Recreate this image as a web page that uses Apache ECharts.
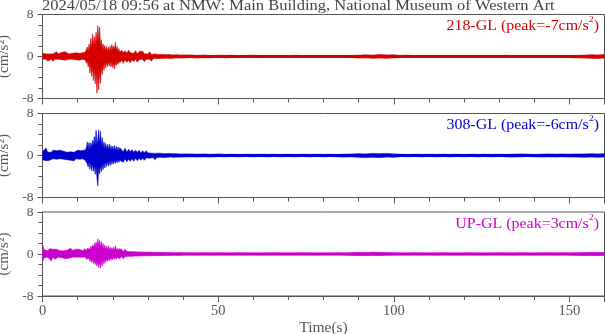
<!DOCTYPE html>
<html><head><meta charset="utf-8">
<script src="https://cdn.jsdelivr.net/npm/echarts@6/dist/echarts.min.js"></script>
<style>html,body{margin:0;padding:0;background:#fff}#c{width:605px;height:334px}</style>
</head><body><div id="c"></div>
<script>
// Sampling grid of the envelope readings: [start, end, step] in seconds
const timeSegments = [[0, 12, 0.5], [12.25, 22, 0.25], [22.5, 40, 0.5], [42, 160, 2]];
const xTicks = [0, 50, 100, 150];
const yTicks = [-8, 0, 8];
const titleText = '2024/05/18 09:56 at NMW: Main Building, National Museum of Western Art';
const names = ['218-GL', '308-GL', 'UP-GL'];
const peaks = ['-7', '-6', '3'];

// upper / lower envelope of each trace (cm/s^2)
const hi218 = [0.6,0.9,0.5,0.7,0.5,0.8,0.5,0.7,0.9,0.5,0.6,0.8,0.5,0.9,0.6,0.5,0.8,0.6,0.5,0.7,0.9,0.6,0.5,0.7,0.8,
 0.9,0.6,1.8,1.0,2.4,1.3,3.4,1.6,4.3,2.0,3.8,2.2,4.6,2.6,5.9,2.8,5.6,2.0,3.2,1.5,2.4,1.2,2.1,1.0,1.9,1.1,1.8,0.9,2.0,1.0,2.3,1.2,2.0,1.3,2.7,1.1,1.9,0.9,1.5,0.8,
 1.2,0.7,1.1,0.6,1.2,0.7,1.0,0.6,1.1,0.5,0.9,0.6,1.0,0.5,0.8,0.5,0.9,0.4,0.7,0.5,0.8,0.4,0.6,0.4,0.7,0.35,0.6,0.4,0.5,0.3,0.55,0.35,0.45,0.3,0.45,0.3,
 0.3,0.2,0.3,0.15,0.25,0.2,0.25,0.15,0.2,0.25,
 0.15,0.2,0.15,0.2,0.15,0.25,0.15,0.2,0.15,0.2,
 0.15,0.2,0.15,0.2,0.25,0.35,0.25,0.4,0.3,0.35,
 0.2,0.25,0.15,0.2,0.15,0.2,0.15,0.2,0.15,0.2,
 0.15,0.2,0.15,0.2,0.15,0.25,0.15,0.2,0.15,0.2,
 0.15,0.2,0.15,0.2,0.15,0.2,0.25,0.35,0.3,0.4];
const lo218 = [-0.5,-0.8,-0.5,-0.9,-0.6,-0.5,-0.9,-0.5,-0.7,-0.5,-0.8,-0.6,-0.5,-0.7,-0.9,-0.5,-0.7,-0.5,-0.8,-0.6,-0.5,-0.7,-0.9,-0.5,-0.7,
 -0.7,-1.3,-0.8,-2.0,-1.0,-3.2,-1.5,-3.8,-1.9,-4.6,-2.4,-5.2,-2.8,-7.0,-3.0,-6.4,-2.6,-5.1,-2.0,-3.4,-1.5,-2.6,-1.2,-2.2,-1.0,-1.9,-1.1,-1.8,-0.9,-2.0,-1.0,-2.1,-1.2,-2.4,-1.1,-1.7,-0.9,-1.5,-0.8,-1.2,
 -0.7,-1.3,-0.6,-1.1,-0.7,-1.2,-0.6,-1.0,-0.5,-1.1,-0.6,-0.9,-0.5,-1.0,-0.5,-0.8,-0.5,-0.9,-0.4,-0.7,-0.4,-0.7,-0.4,-0.6,-0.35,-0.7,-0.35,-0.5,-0.4,-0.55,-0.3,-0.5,-0.3,-0.45,-0.3,-0.4,
 -0.2,-0.3,-0.2,-0.25,-0.15,-0.25,-0.2,-0.2,-0.15,-0.2,
 -0.2,-0.15,-0.2,-0.15,-0.2,-0.15,-0.2,-0.15,-0.2,-0.15,
 -0.2,-0.15,-0.2,-0.2,-0.3,-0.25,-0.35,-0.3,-0.35,-0.25,
 -0.2,-0.15,-0.2,-0.15,-0.2,-0.15,-0.2,-0.15,-0.2,-0.15,
 -0.2,-0.15,-0.2,-0.15,-0.2,-0.15,-0.2,-0.15,-0.2,-0.15,
 -0.2,-0.15,-0.2,-0.15,-0.2,-0.25,-0.3,-0.35,-0.4,-0.3];

const hi308 = [0.7,1.0,1.4,0.6,0.9,0.6,1.0,0.7,0.9,0.6,1.0,0.7,0.8,1.0,0.6,0.9,0.7,1.0,0.6,0.8,1.0,0.7,0.9,0.6,1.0,
 0.8,1.4,2.6,1.2,2.5,1.3,2.4,1.5,2.9,1.8,3.6,1.9,4.8,2.2,3.0,4.9,2.0,4.6,1.8,3.4,1.5,2.6,1.3,2.3,1.2,2.1,1.1,2.2,1.0,1.9,1.0,1.8,0.9,1.9,0.9,1.7,0.8,1.6,0.9,1.5,
 1.3,0.7,1.4,0.6,1.2,0.7,1.1,0.6,1.0,0.6,1.0,0.5,0.9,0.5,0.9,0.5,0.8,0.45,0.8,0.4,0.7,0.45,0.7,0.4,0.65,0.35,0.6,0.4,0.55,0.35,0.5,0.35,0.45,0.3,0.45,0.3,
 0.3,0.25,0.3,0.2,0.3,0.2,0.25,0.2,0.25,0.2,
 0.25,0.2,0.25,0.2,0.25,0.2,0.25,0.2,0.25,0.2,
 0.25,0.2,0.25,0.3,0.35,0.3,0.4,0.35,0.4,0.3,
 0.25,0.2,0.25,0.2,0.25,0.2,0.25,0.2,0.25,0.2,
 0.25,0.2,0.25,0.2,0.25,0.2,0.25,0.3,0.25,0.2,
 0.25,0.3,0.25,0.3,0.25,0.3,0.3,0.35,0.3,0.35];
const lo308 = [-0.8,-0.6,-1.0,-0.7,-0.9,-1.0,-0.6,-0.9,-0.7,-1.0,-0.6,-0.9,-0.7,-1.0,-0.8,-0.6,-0.9,-0.7,-1.0,-0.6,-0.9,-0.7,-1.0,-0.6,-0.9,
 -1.0,-0.8,-1.6,-2.2,-1.2,-2.6,-1.4,-2.9,-1.6,-3.0,-1.8,-3.6,-2.0,-4.2,-5.8,-2.2,-3.5,-1.9,-3.1,-1.6,-2.7,-1.4,-2.4,-1.2,-2.1,-1.1,-2.0,-1.0,-1.9,-0.9,-1.7,-1.0,-1.6,-0.9,-1.5,-0.8,-1.4,-0.8,-1.3,-0.9,
 -0.7,-1.3,-0.6,-1.2,-0.7,-1.1,-0.6,-1.1,-0.5,-1.0,-0.5,-0.9,-0.5,-0.9,-0.45,-0.8,-0.5,-0.7,-0.4,-0.8,-0.4,-0.7,-0.35,-0.6,-0.4,-0.6,-0.35,-0.6,-0.3,-0.5,-0.35,-0.5,-0.3,-0.45,-0.3,-0.4,
 -0.25,-0.3,-0.25,-0.3,-0.2,-0.25,-0.2,-0.25,-0.2,-0.25,
 -0.2,-0.25,-0.2,-0.25,-0.2,-0.25,-0.2,-0.25,-0.2,-0.25,
 -0.2,-0.25,-0.3,-0.25,-0.35,-0.4,-0.35,-0.4,-0.3,-0.35,
 -0.2,-0.25,-0.2,-0.25,-0.2,-0.25,-0.2,-0.25,-0.2,-0.25,
 -0.2,-0.25,-0.2,-0.25,-0.2,-0.25,-0.3,-0.25,-0.2,-0.25,
 -0.3,-0.25,-0.3,-0.25,-0.3,-0.3,-0.35,-0.3,-0.35,-0.3];

const hiUP = [1.8,0.8,1.0,0.6,1.0,0.7,0.9,0.6,0.9,0.7,0.6,0.9,0.6,0.9,0.7,0.6,1.1,0.7,0.6,0.9,0.6,0.9,0.7,0.6,1.0,
 0.9,0.6,1.1,0.8,1.3,0.9,1.5,1.0,1.7,1.1,2.1,1.3,2.3,1.5,2.9,1.6,2.6,1.4,2.4,1.2,2.0,1.0,1.7,0.9,1.5,0.8,1.6,0.8,1.3,0.7,1.2,0.8,1.3,0.7,1.6,0.7,1.1,0.6,1.0,0.7,
 0.9,0.5,0.9,0.5,0.8,0.45,0.8,0.45,0.7,0.4,0.7,0.4,0.65,0.35,0.6,0.35,0.55,0.35,0.5,0.3,0.5,0.3,0.45,0.3,0.4,0.25,0.4,0.25,0.35,0.25,0.35,0.2,0.3,0.25,0.3,0.2,
 0.2,0.15,0.2,0.15,0.2,0.15,0.15,0.2,0.15,0.15,
 0.15,0.15,0.2,0.15,0.15,0.15,0.2,0.15,0.15,0.15,
 0.15,0.2,0.15,0.25,0.3,0.25,0.35,0.3,0.25,0.2,
 0.15,0.15,0.2,0.15,0.15,0.15,0.2,0.15,0.15,0.15,
 0.2,0.15,0.15,0.15,0.2,0.15,0.15,0.2,0.15,0.15,
 0.15,0.2,0.15,0.2,0.15,0.2,0.25,0.3,0.25,0.3];
const loUP = [-1.5,-0.7,-1.0,-0.6,-0.8,-1.3,-0.6,-1.0,-0.7,-0.6,-0.9,-0.7,-0.6,-0.9,-0.6,-0.8,-0.9,-0.6,-0.9,-0.6,-0.8,-0.6,-0.9,-0.6,-0.8,
 -0.6,-1.0,-0.7,-1.2,-0.8,-1.4,-0.9,-1.6,-1.0,-1.8,-1.2,-2.0,-1.3,-2.3,-1.5,-2.6,-1.4,-2.7,-1.3,-2.3,-1.1,-1.9,-1.0,-1.6,-0.9,-1.4,-0.8,-1.3,-0.7,-1.2,-0.7,-1.1,-0.6,-1.0,-0.6,-1.0,-0.6,-0.9,-0.6,-0.9,
 -0.5,-0.9,-0.5,-0.8,-0.45,-0.8,-0.45,-0.7,-0.4,-0.7,-0.4,-0.65,-0.35,-0.6,-0.35,-0.55,-0.35,-0.5,-0.3,-0.5,-0.3,-0.45,-0.3,-0.4,-0.25,-0.4,-0.25,-0.35,-0.25,-0.35,-0.2,-0.3,-0.25,-0.3,-0.2,-0.3,
 -0.15,-0.2,-0.15,-0.2,-0.15,-0.15,-0.2,-0.15,-0.15,-0.15,
 -0.2,-0.15,-0.15,-0.15,-0.2,-0.15,-0.15,-0.15,-0.2,-0.15,
 -0.15,-0.15,-0.2,-0.25,-0.3,-0.3,-0.25,-0.3,-0.2,-0.2,
 -0.15,-0.2,-0.15,-0.15,-0.15,-0.2,-0.15,-0.15,-0.2,-0.15,
 -0.15,-0.15,-0.2,-0.15,-0.15,-0.15,-0.2,-0.15,-0.15,-0.2,
 -0.15,-0.15,-0.2,-0.15,-0.2,-0.25,-0.3,-0.25,-0.3,-0.25];

const colors = ['#d40000', '#0000cc', '#cc00cc'];
const his = [hi218, hi308, hiUP];
const los = [lo218, lo308, loUP];

const times = [];
timeSegments.forEach(([a, b, s]) => { for (let k = 0; a + k * s <= b + 1e-9; k++) times.push(+(a + k * s).toFixed(2)); });
const pair = arr => arr.map((v, i) => [times[i], v]);

const FONT = 'Liberation Serif';
const GREY = '#555';
const TXT = '#444';
const tops = [14.5, 113.5, 212];
const H = 84;
const LEFT = 42.5, W = 562;

function supRich(color, size) {
  const base = { fontFamily: FONT, fontWeight: 'normal', verticalAlign: 'bottom', lineHeight: size + 4, fill: color };
  return {
    a: Object.assign({}, base, { fontSize: size }),
    s: Object.assign({}, base, { fontSize: Math.round(size * 0.65), verticalAlign: 'top', padding: [0, 0, 8, 0] })
  };
}

const graphics = [{
  type: 'text', x: LEFT - 0.5, y: 6, scaleX: 1.1,
  style: { text: titleText, fontFamily: FONT, fontSize: 15, fill: TXT, align: 'left', verticalAlign: 'middle' }
}].concat(names.map((n, i) => ({
  type: 'text', x: 599, y: tops[i] + 10, scaleX: 1.1,
  style: {
    text: '{a|' + n + ' (peak=' + peaks[i] + 'cm/s}{s|2}{a|)}',
    rich: supRich(colors[i], 14.5), align: 'right', verticalAlign: 'middle'
  }
})));

const series = [];
[0, 1, 2].forEach(i => {
  [[his[i], -0.3], [los[i], 0.3]].forEach(([arr, org]) => series.push({
    type: 'line', xAxisIndex: i, yAxisIndex: i, showSymbol: false, symbol: 'none',
    data: pair(arr), silent: true,
    lineStyle: { color: colors[i], width: 0.6 },
    areaStyle: { color: colors[i], opacity: 1, origin: org }
  }));
});

const option = {
  animation: false,
  graphic: graphics,
  grid: tops.map(t => ({ left: LEFT, width: W, top: t, height: H, show: true, borderColor: GREY, borderWidth: 1, backgroundColor: 'transparent', containLabel: false, outerBoundsMode: 'none' })),
  xAxis: [0, 1, 2].map(i => ({
    type: 'value', gridIndex: i, min: 0, max: 160, interval: 50,
    axisLine: { show: true, onZero: false, lineStyle: { color: GREY } },
    axisTick: { show: true, inside: false, length: 6, lineStyle: { color: GREY } },
    minorTick: { show: true, splitNumber: 5, length: 4, lineStyle: { color: GREY } },
    splitLine: { show: false },
    axisLabel: { show: i === 2, fontFamily: FONT, fontSize: 14.5, color: GREY, margin: 8, showMaxLabel: false,
      formatter: v => xTicks.indexOf(v) >= 0 ? String(v) : '' },
    name: i === 2 ? 'Time(s)' : '', nameLocation: 'middle', nameGap: 24,
    nameTextStyle: { fontFamily: FONT, fontSize: 15.5, color: GREY }
  })),
  yAxis: [0, 1, 2].map(i => ({
    type: 'value', gridIndex: i, min: -8, max: 8, interval: 8,
    axisLine: { show: true, lineStyle: { color: GREY } },
    axisTick: { show: true, inside: false, length: 5, lineStyle: { color: GREY } },
    minorTick: { show: true, splitNumber: 4, length: 4, lineStyle: { color: GREY } },
    splitLine: { show: false },
    axisLabel: { fontFamily: FONT, fontSize: 13.5, color: GREY, margin: 9,
      formatter: v => yTicks.indexOf(v) >= 0 ? String(v) : '' },
    name: '(cm/s\u00B2)', nameLocation: 'middle', nameGap: 25, nameRotate: 90,
    nameTextStyle: { fontFamily: FONT, fontSize: 15, color: GREY }
  })),
  series: series
};
echarts.init(document.getElementById('c'), null, { renderer: 'canvas' }).setOption(option);
</script></body></html>
